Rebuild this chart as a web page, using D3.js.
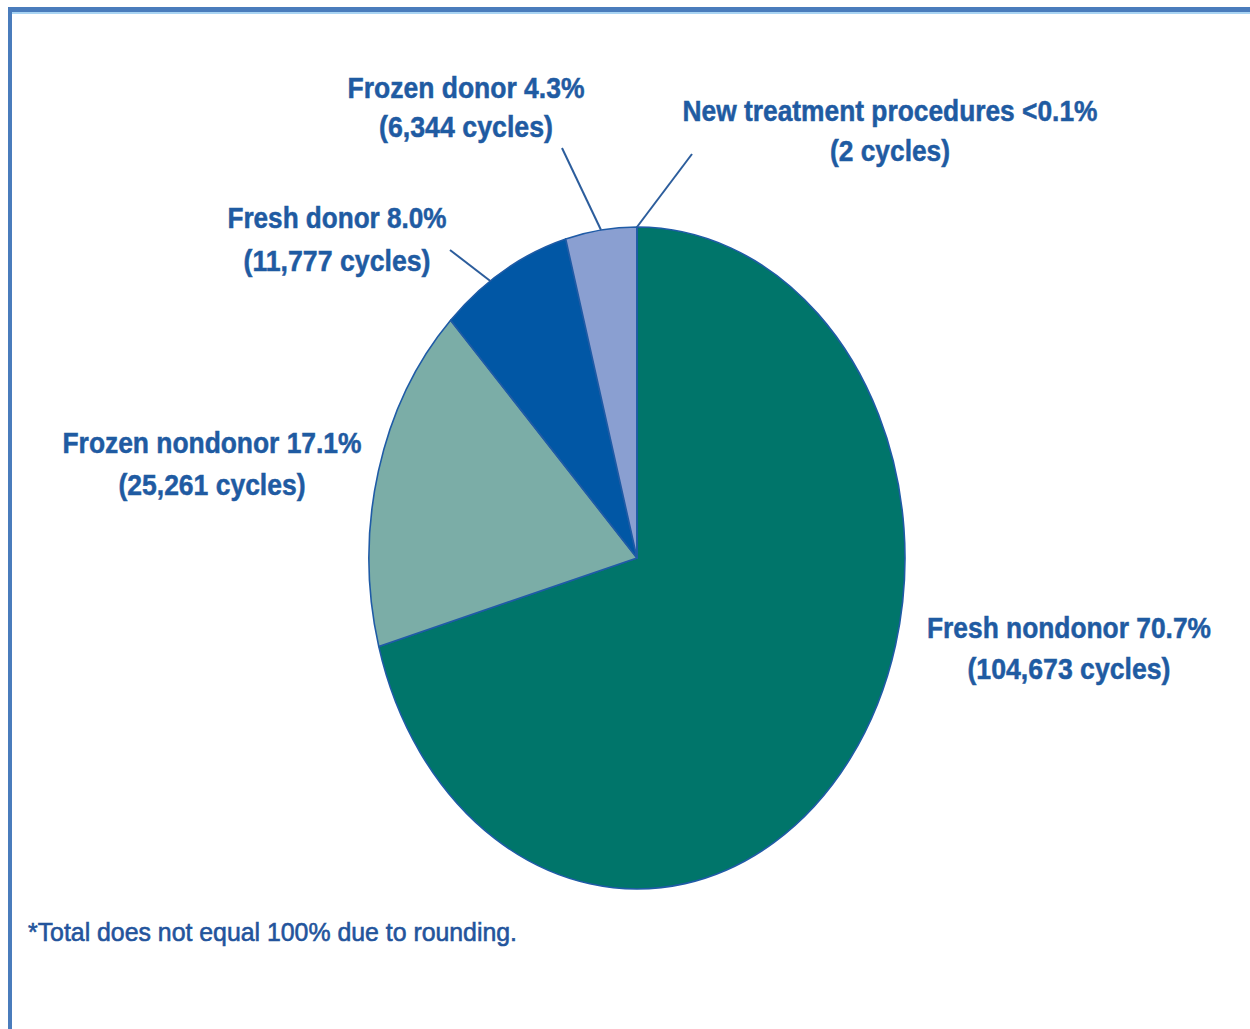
<!DOCTYPE html>
<html><head><meta charset="utf-8">
<script src="https://cdn.jsdelivr.net/npm/d3@7"></script>
<style>
html,body{margin:0;padding:0;background:#fff;}
svg{display:block;}
</style></head>
<body>
<script>
// ---- data ----
const categories = ["Fresh nondonor","Frozen nondonor","Fresh donor","Frozen donor","New treatment procedures"];
const cycles = [104673, 25261, 11777, 6344, 2];
const percentLabels = ["70.7%","17.1%","8.0%","4.3%","<0.1%"];
const cycleLabels = ["(104,673 cycles)","(25,261 cycles)","(11,777 cycles)","(6,344 cycles)","(2 cycles)"];
const footnote = "*Total does not equal 100% due to rounding.";

// ---- layout / style ----
const W = 1250, H = 1029;
const cx = 637, cy = 558, rx = 268, ry = 331;
const colors = ["#00756a","#7badA7","#0157a5","#8a9fd1","#0157a5"];
const textColor = "#1f5ba2";
// label layout: center x, baseline of line 1, baseline of line 2, target widths
const labelPos = [
  {x:1069, y1:638, y2:679, w1:284, w2:203, leader:null},
  {x:212,  y1:453, y2:495, w1:299, w2:187, leader:null},
  {x:337,  y1:228, y2:271, w1:219, w2:187, leader:{x:450,y:250,t:0.38}},
  {x:466,  y1:98,  y2:137, w1:237, w2:174, leader:{x:562,y:148,t:0.5}},
  {x:890,  y1:121, y2:161, w1:415, w2:120, leader:{x:692,y:154,t:0.5}}
];

const svg = d3.select("body").append("svg").attr("width",W).attr("height",H);
svg.append("rect").attr("width",W).attr("height",H).attr("fill","#fff");

// frame
svg.append("rect").attr("x",8).attr("y",7).attr("width",W-8).attr("height",5).attr("fill","#4a7cbc");
svg.append("rect").attr("x",12).attr("y",12).attr("width",W-12).attr("height",2).attr("fill","#a9d4f3");
svg.append("rect").attr("x",8).attr("y",7).attr("width",4).attr("height",H-7).attr("fill","#4a7cbc");

const pie = d3.pie().sort(null).value(d=>d);
const arcs = pie(cycles);
const arc = d3.arc().innerRadius(0).outerRadius(rx);

const g = svg.append("g").attr("transform",`translate(${cx},${cy}) scale(1,${ry/rx})`);
g.selectAll("path").data(arcs).join("path")
  .attr("d",arc)
  .attr("fill",(d,i)=>colors[i])
  .attr("stroke","#1f5ba6")
  .attr("stroke-width",1.6)
  .attr("stroke-linejoin","round")
  .attr("vector-effect","non-scaling-stroke");

// point on ellipse for angle
function ellipsePt(a){ return [cx + rx*Math.sin(a), cy - ry*Math.cos(a)]; }

// leader lines
arcs.forEach((d,i)=>{
  const L = labelPos[i].leader;
  if(!L) return;
  const a = d.startAngle + (d.endAngle-d.startAngle)*L.t;
  const p = ellipsePt(a);
  svg.append("line").attr("x1",L.x).attr("y1",L.y).attr("x2",p[0]).attr("y2",p[1])
    .attr("stroke","#2c5d9c").attr("stroke-width",2);
});

// labels
const font = "'Liberation Sans', Arial, sans-serif";
arcs.forEach((d,i)=>{
  const L = labelPos[i];
  const t1 = categories[i] + " " + percentLabels[i];
  svg.append("text").attr("x",L.x).attr("y",L.y1).attr("text-anchor","middle")
    .attr("font-family",font).attr("font-weight","bold").attr("font-size",29)
    .attr("fill",textColor).attr("stroke",textColor).attr("stroke-width",0.5)
    .attr("textLength",L.w1).attr("lengthAdjust","spacingAndGlyphs")
    .text(t1);
  svg.append("text").attr("x",L.x).attr("y",L.y2).attr("text-anchor","middle")
    .attr("font-family",font).attr("font-weight","bold").attr("font-size",29)
    .attr("fill",textColor).attr("stroke",textColor).attr("stroke-width",0.5)
    .attr("textLength",L.w2).attr("lengthAdjust","spacingAndGlyphs")
    .text(cycleLabels[i]);
});

svg.append("text").attr("x",28).attr("y",941)
  .attr("font-family",font).attr("font-size",26)
  .attr("fill","#23549c").attr("textLength",489).attr("lengthAdjust","spacingAndGlyphs")
  .attr("stroke","#23549c").attr("stroke-width",0.6)
  .text(footnote);
</script>
</body></html>
